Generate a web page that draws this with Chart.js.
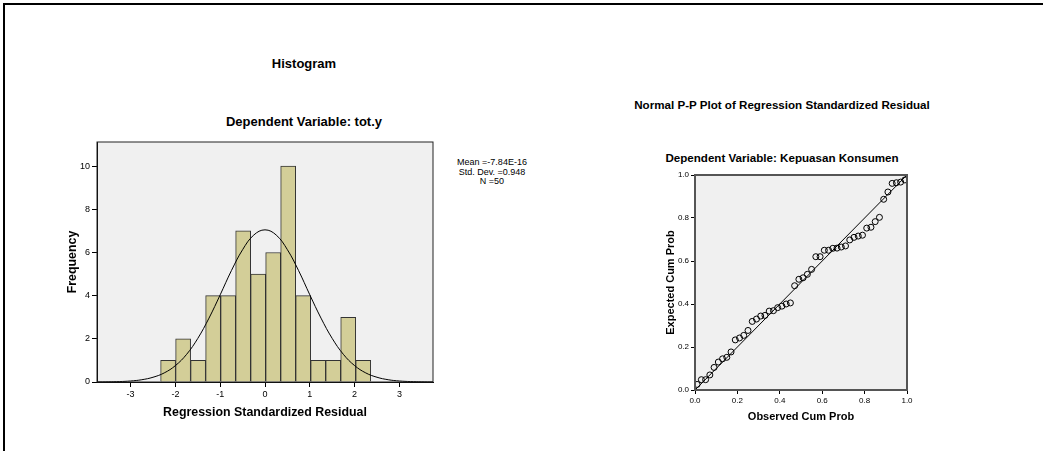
<!DOCTYPE html>
<html>
<head>
<meta charset="utf-8">
<title>Histogram and Normal P-P Plot</title>
<script src="https://cdn.jsdelivr.net/npm/chart.js@4"></script>
<style>
    body { margin: 0; background: #fff; font-family: "Liberation Sans", Arial, sans-serif; }
    #page { position: relative; width: 1043px; height: 451px; overflow: hidden; }
    .edge-top { position: absolute; left: 3px; top: 3px; width: 1040px; height: 2px; background: #000; }
    .edge-left { position: absolute; left: 3px; top: 3px; width: 2px; height: 448px; background: #000; }
    .t { position: absolute; transform: translate(-50%, -50%); white-space: nowrap; font-weight: bold; color: #000; }
    .stats { position: absolute; left: 492px; top: 158px; transform: translateX(-50%); font-size: 9px; line-height: 9.5px; text-align: center; color: #000; }
    canvas { position: absolute; }
</style>
</head>
<body>
<div id="page">
    <div class="edge-top"></div>
    <div class="edge-left"></div>

    <div class="t" style="left:304px; top:63px; font-size:13px;">Histogram</div>
    <div class="t" style="left:304px; top:121px; font-size:13px;">Dependent Variable: tot.y</div>
    <div class="stats">Mean =-7.84E-16<br>Std. Dev. =0.948<br>N =50</div>

    <div class="t" style="left:782px; top:104px; font-size:11.6px;">Normal P-P Plot of Regression Standardized Residual</div>
    <div class="t" style="left:782px; top:157px; font-size:11.6px;">Dependent Variable: Kepuasan Konsumen</div>

    <canvas id="histChart" width="410" height="300" style="left:40px; top:130px;"></canvas>
    <canvas id="ppChart" width="300" height="270" style="left:630px; top:160px;"></canvas>
</div>

<script>
// Histogram bins (mid points of the bars) and their counts
const binMids = [-2.1625, -1.8275, -1.4925, -1.1575, -0.8225, -0.4875, -0.1525,
                 0.1825, 0.5175, 0.8525, 1.1875, 1.5225, 1.8575, 2.1925];
const binCounts = [1, 2, 1, 4, 4, 7, 5, 6, 10, 4, 1, 1, 3, 1];

// Normal curve heights
const curveX = [-3.75, -3.5, -3.25, -3, -2.75, -2.5, -2.25, -2, -1.75, -1.5, -1.25, -1, -0.75, -0.5, -0.25,
                0, 0.25, 0.5, 0.75, 1, 1.25, 1.5, 1.75, 2, 2.25, 2.5, 2.75, 3, 3.25, 3.5, 3.75];
const curveY = [0.003, 0.008, 0.02, 0.047, 0.105, 0.22, 0.42, 0.76, 1.28, 2.02, 2.96, 4.04, 5.16, 6.13, 6.81,
                7.05, 6.81, 6.13, 5.16, 4.04, 2.96, 2.02, 1.28, 0.76, 0.42, 0.22, 0.105, 0.047, 0.02, 0.008, 0.003];

const histXTicks = [-3, -2, -1, 0, 1, 2, 3];
const histYTicks = [0, 2, 4, 6, 8, 10];

// P-P plot points
const ppObserved = [0.01, 0.03, 0.05, 0.07, 0.09, 0.11, 0.13, 0.15, 0.17, 0.19,
                    0.21, 0.23, 0.25, 0.27, 0.29, 0.31, 0.33, 0.35, 0.37, 0.39,
                    0.41, 0.43, 0.45, 0.47, 0.49, 0.51, 0.53, 0.55, 0.57, 0.59,
                    0.61, 0.63, 0.65, 0.67, 0.69, 0.71, 0.73, 0.75, 0.77, 0.79,
                    0.81, 0.83, 0.85, 0.87, 0.89, 0.91, 0.93, 0.95, 0.97, 0.99];
const ppExpected = [0.026, 0.048, 0.048, 0.07, 0.105, 0.13, 0.145, 0.152, 0.177, 0.233,
                    0.242, 0.254, 0.277, 0.319, 0.33, 0.344, 0.347, 0.367, 0.369, 0.383,
                    0.39, 0.40, 0.405, 0.485, 0.515, 0.522, 0.538, 0.561, 0.62, 0.62,
                    0.65, 0.65, 0.659, 0.66, 0.665, 0.67, 0.698, 0.71, 0.716, 0.72,
                    0.753, 0.757, 0.783, 0.803, 0.887, 0.921, 0.961, 0.964, 0.967, 0.977];
const ppDiagonal = [0, 1];
const ppTicks = [0, 0.2, 0.4, 0.6, 0.8, 1.0];

// grey plot background plus frame around the plot area
const plotFrame = {
    id: 'plotFrame',
    beforeDraw(chart, args, opts) {
        const a = chart.chartArea;
        const ctx = chart.ctx;
        ctx.save();
        ctx.fillStyle = opts.bg;
        ctx.fillRect(a.left, a.top, a.right - a.left, a.bottom - a.top);
        ctx.restore();
    },
    afterDatasetsDraw(chart, args, opts) {
        const a = chart.chartArea;
        const ctx = chart.ctx;
        ctx.save();
        ctx.strokeStyle = opts.border;
        ctx.lineWidth = opts.width;
        ctx.strokeRect(a.left, a.top, a.right - a.left, a.bottom - a.top);
        ctx.restore();
    }
};

Chart.defaults.font.family = '"Liberation Sans", Arial, sans-serif';
Chart.defaults.color = '#000';

const axisGrid = { drawOnChartArea: false, drawTicks: true, tickLength: 5, color: '#000', offset: false };

new Chart(document.getElementById('histChart'), {
    type: 'bar',
    data: {
        datasets: [{
            type: 'line',
            data: curveX.map((x, i) => ({ x: x, y: curveY[i] })),
            borderColor: '#000',
            borderWidth: 1,
            pointRadius: 0,
            tension: 0.4,
            order: 0
        }, {
            type: 'bar',
            data: binMids.map((x, i) => ({ x: x, y: binCounts[i] })),
            backgroundColor: '#d3ce98',
            borderColor: '#333',
            borderWidth: 1,
            barPercentage: 1,
            categoryPercentage: 1,
            order: 1
        }]
    },
    options: {
        responsive: false,
        animation: false,
        layout: { padding: { left: 0, top: 12, right: 17, bottom: 0 } },
        plugins: {
            legend: { display: false },
            tooltip: { enabled: false },
            plotFrame: { bg: '#f0f0f0', border: '#222', width: 1 }
        },
        scales: {
            x: {
                type: 'linear',
                offset: false,
                min: -3.75,
                max: 3.75,
                afterBuildTicks: s => { s.ticks = histXTicks.map(v => ({ value: v })); },
                afterFit: s => { s.height = 48; },
                grid: axisGrid,
                border: { display: true, color: '#000' },
                ticks: { font: { size: 9 }, padding: 2, maxRotation: 0, autoSkip: false },
                title: { display: true, text: 'Regression Standardized Residual',
                         font: { size: 12.4, weight: 'bold' }, padding: { top: 0, bottom: 10 } }
            },
            y: {
                min: 0,
                max: 11.12,
                afterBuildTicks: s => { s.ticks = histYTicks.map(v => ({ value: v })); },
                afterFit: s => { s.width = 57; },
                grid: axisGrid,
                border: { display: true, color: '#000' },
                ticks: { font: { size: 9 }, padding: 2 },
                title: { display: true, text: 'Frequency',
                         font: { size: 12.4, weight: 'bold' }, padding: { top: 25, bottom: 0 } }
            }
        }
    },
    plugins: [plotFrame]
});

const narrow = '"Liberation Sans Narrow", "Liberation Sans", Arial, sans-serif';

new Chart(document.getElementById('ppChart'), {
    type: 'scatter',
    data: {
        datasets: [{
            data: ppObserved.map((x, i) => ({ x: x, y: ppExpected[i] })),
            pointRadius: 3,
            borderColor: '#000',
            borderWidth: 1,
            backgroundColor: 'rgba(0,0,0,0)',
            order: 1
        }, {
            data: ppDiagonal.map(v => ({ x: v, y: v })),
            showLine: true,
            borderColor: '#000',
            borderWidth: 1,
            pointRadius: 0,
            order: 0
        }]
    },
    options: {
        responsive: false,
        animation: false,
        layout: { padding: { left: 0, top: 15, right: 23, bottom: 0 } },
        plugins: {
            legend: { display: false },
            tooltip: { enabled: false },
            plotFrame: { bg: '#f0f0f0', border: '#555', width: 2 }
        },
        scales: {
            x: {
                type: 'linear',
                min: 0,
                max: 1,
                afterBuildTicks: s => { s.ticks = ppTicks.map(v => ({ value: v })); },
                afterFit: s => { s.height = 40; },
                grid: { drawOnChartArea: false, drawTicks: true, tickLength: 4, color: '#000' },
                border: { display: true, color: '#000' },
                ticks: { font: { size: 8, family: narrow }, padding: 2, maxRotation: 0, autoSkip: false,
                         callback: v => v.toFixed(1) },
                title: { display: true, text: 'Observed Cum Prob',
                         font: { size: 11, weight: 'bold' }, padding: { top: 0, bottom: 6 } }
            },
            y: {
                min: 0,
                max: 1,
                afterBuildTicks: s => { s.ticks = ppTicks.map(v => ({ value: v })); },
                afterFit: s => { s.width = 65; },
                grid: { drawOnChartArea: false, drawTicks: true, tickLength: 4, color: '#000' },
                border: { display: true, color: '#000' },
                ticks: { font: { size: 8, family: narrow }, padding: 2,
                         callback: v => v.toFixed(1) },
                title: { display: true, text: 'Expected Cum Prob',
                         font: { size: 11, weight: 'bold' }, padding: { top: 34, bottom: 0 } }
            }
        }
    },
    plugins: [plotFrame]
});
</script>
</body>
</html>
